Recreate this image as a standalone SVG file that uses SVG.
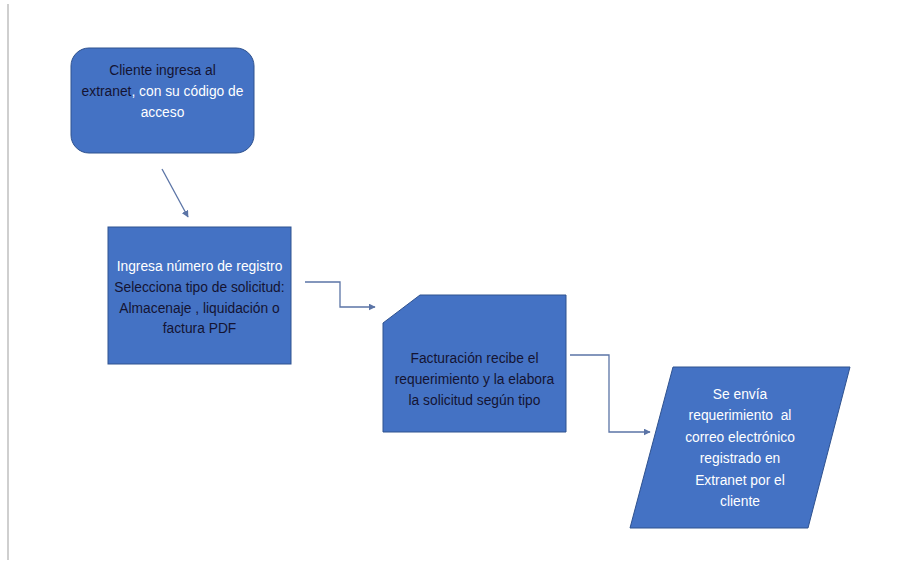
<svg xmlns="http://www.w3.org/2000/svg" width="897" height="564" viewBox="0 0 897 564">
  <style>
    .shape { fill: #4472C4; stroke: #2F528F; stroke-width: 1; }
    .label { font-family: "Liberation Sans", Arial, sans-serif; font-size: 13.8px; text-anchor: middle; white-space: pre; }
    .dark { fill: #141433; }
    .light { fill: #FFFFFF; }
    .conn { fill: none; stroke: #5B74A6; stroke-width: 1.3; }
  </style>
  <defs>
    <marker id="arrow" viewBox="0 0 10 10" refX="9" refY="5" markerWidth="7" markerHeight="7" orient="auto" markerUnits="userSpaceOnUse">
      <path d="M0,0 L10,5 L0,10 z" fill="#5B74A6"/>
    </marker>
  </defs>
  <rect width="897" height="564" fill="#FFFFFF"/>
  <!-- page margin rule -->
  <line x1="8" y1="4" x2="8" y2="560" stroke="#CFCFCF" stroke-width="2"/>

  <g id="connectors">
    <line class="conn" x1="162" y1="169" x2="188" y2="217" marker-end="url(#arrow)"/>
    <polyline class="conn" points="305,282 340,282 340,307 375,307" marker-end="url(#arrow)"/>
    <polyline class="conn" points="570,355 609,355 609,432 650,432" marker-end="url(#arrow)"/>
  </g>

  <g id="node-cliente">
    <rect class="shape" x="71" y="48" width="183" height="105" rx="18" ry="18"/>
    <text class="label" x="162.5" y="75"><tspan class="dark">Cliente ingresa al</tspan></text>
    <text class="label" x="162.5" y="96"><tspan class="dark">extranet</tspan><tspan class="light">, con su código de</tspan></text>
    <text class="label light" x="162.5" y="117">acceso</text>
  </g>

  <g id="node-registro">
    <rect class="shape" x="108" y="227" width="183" height="137"/>
    <text class="label light" x="199.5" y="271">Ingresa número de registro</text>
    <text class="label dark" x="199.5" y="292">Selecciona tipo de solicitud:</text>
    <text class="label dark" x="199.5" y="313">Almacenaje , liquidación o</text>
    <text class="label dark" x="199.5" y="333">factura PDF</text>
  </g>

  <g id="node-facturacion">
    <polygon class="shape" points="383,323 420,295 566,295 566,432 383,432"/>
    <text class="label dark" x="474.5" y="363">Facturación recibe el</text>
    <text class="label dark" x="474.5" y="384">requerimiento y la elabora</text>
    <text class="label dark" x="474.5" y="405">la solicitud según tipo</text>
  </g>

  <g id="node-envio">
    <polygon class="shape" points="673,367 850,367 808,528 630,528"/>
    <text class="label light" x="740" y="399">Se envía</text>
    <text class="label light" x="740" y="420">requerimiento  al</text>
    <text class="label light" x="740" y="442">correo electrónico</text>
    <text class="label light" x="740" y="463">registrado en</text>
    <text class="label light" x="740" y="485">Extranet por el</text>
    <text class="label light" x="740" y="506">cliente</text>
  </g>
</svg>
